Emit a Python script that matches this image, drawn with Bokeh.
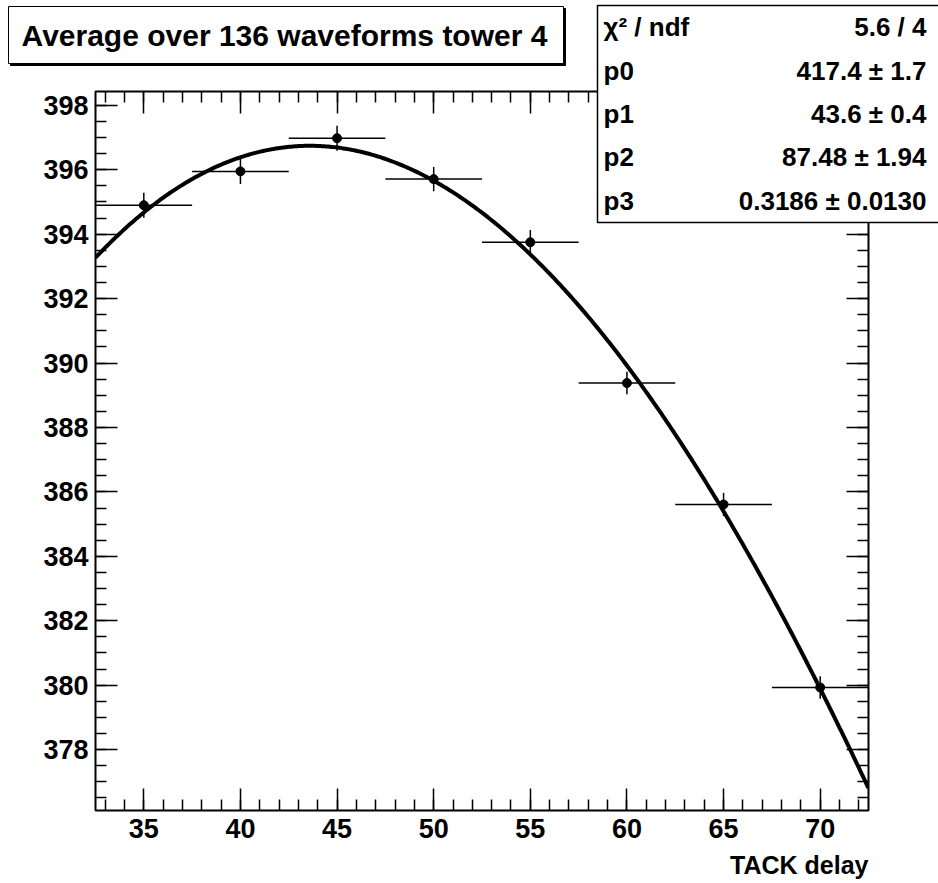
import numpy as np
from bokeh.plotting import figure
from bokeh.layouts import column
from bokeh.models import Range1d, LinearAxis, SingleIntervalTicker, ColumnDataSource
from bokeh.core.properties import value
from bokeh.embed import file_html
from bokeh.resources import INLINE

# Measured points (TACK delay vs. average amplitude)
delay = [35, 40, 45, 50, 55, 60, 65, 70]
amplitude = [394.90, 395.95, 396.98, 395.71, 393.75, 389.38, 385.61, 379.93]
amp_err = [0.39, 0.39, 0.39, 0.38, 0.38, 0.35, 0.36, 0.35]
delay_err = [2.5, 2.5, 2.5, 2.5, 2.5, 2.5, 2.5, 2.5]

# Fit result (Novosibirsk shape)
fit_pars = [417.4, 43.6, 87.48, 0.3186]
fit_vals = ["417.4", "43.6", "87.48", "0.3186"]
fit_errs = ["1.7", "0.4", "1.94", "0.0130"]
chi2_ndf = "5.6 / 4"

title_text = "Average over 136 waveforms tower 4"
x_title = "TACK delay"

W, H = 938, 883
FL, FR, FT, FB = 95, 868, 91, 810  # frame edges on the canvas
FONT = "Liberation Sans"


def novosibirsk(x, norm, peak, width, tail):
    qa = tail * np.sqrt(np.log(4.0))
    qb = np.sinh(qa) / qa
    qx = (x - peak) / width * qb
    qy = 1.0 + tail * qx
    qc = 0.5 * ((np.log(qy) / tail) ** 2 + tail * tail)
    return norm * np.exp(-qc)


fig = figure(width=W, height=H, output_backend="svg", toolbar_location=None,
             x_range=Range1d(32.5, 72.5), y_range=Range1d(376.11, 398.43),
             min_border_left=FL, min_border_right=W - FR,
             min_border_top=FT, min_border_bottom=H - FB,
             x_axis_type=None, y_axis_type=None)
fig.frame_align = False
fig.xgrid.grid_line_color = None
fig.ygrid.grid_line_color = None
fig.outline_line_color = "black"
fig.outline_line_width = 2
fig.background_fill_color = "white"
fig.border_fill_color = "white"


def make_axis(kind, loc):
    if kind == "x":
        ax = LinearAxis(ticker=SingleIntervalTicker(interval=5, num_minor_ticks=5))
    else:
        ax = LinearAxis(ticker=SingleIntervalTicker(interval=2, num_minor_ticks=4))
    ax.axis_line_color = None
    ax.major_tick_in = 22
    ax.major_tick_out = 0
    ax.minor_tick_in = 11
    ax.minor_tick_out = 0
    ax.major_tick_line_width = 1.5
    ax.minor_tick_line_width = 1.5
    ax.major_tick_line_color = "black"
    ax.minor_tick_line_color = "black"
    ax.major_label_text_font = FONT
    ax.major_label_text_font_style = "bold"
    ax.major_label_text_font_size = "27px"
    ax.major_label_text_color = "black"
    if loc in ("above", "right"):
        # tick marks only on the opposite sides
        ax.major_label_text_font_size = "8px"
        ax.major_label_text_color = None
    fig.add_layout(ax, loc)
    return ax


xb = make_axis("x", "below")
xb.major_label_standoff = 8
yl = make_axis("y", "left")
yl.major_label_standoff = 7
make_axis("x", "above")
make_axis("y", "right")

# error bars and markers
src = ColumnDataSource(dict(
    x=delay, y=amplitude,
    x0=[a - b for a, b in zip(delay, delay_err)],
    x1=[a + b for a, b in zip(delay, delay_err)],
    y0=[a - b for a, b in zip(amplitude, amp_err)],
    y1=[a + b for a, b in zip(amplitude, amp_err)],
))
fig.segment(x0="x0", y0="y", x1="x1", y1="y", source=src, line_color="black", line_width=1.5)
fig.segment(x0="x", y0="y0", x1="x", y1="y1", source=src, line_color="black", line_width=1.5)
fig.scatter(x="x", y="y", source=src, marker="circle", size=9,
            fill_color="black", line_color="black")

# fitted curve
xf = np.linspace(32.5, 72.5, 400)
fig.line(xf, novosibirsk(xf, *fit_pars), line_color="black", line_width=4)

# transparent canvas on top for the title pave, the statistics pave and the axis title
ov = figure(width=W, height=H, output_backend="svg", toolbar_location=None,
            x_range=Range1d(0, W), y_range=Range1d(H, 0),
            min_border=0, min_border_left=0, min_border_right=0,
            min_border_top=0, min_border_bottom=0,
            x_axis_type=None, y_axis_type=None)
ov.frame_align = False
ov.xgrid.grid_line_color = None
ov.ygrid.grid_line_color = None
ov.outline_line_color = None
ov.background_fill_color = None
ov.border_fill_color = None
ov.styles = {"position": "absolute", "left": "0px", "top": "0px"}

# title pave with shadow
ov.quad(left=[10], right=[565], top=[8], bottom=[65], fill_color="black", line_color="black")
ov.quad(left=[8], right=[563], top=[6], bottom=[63], fill_color="white",
        line_color="black", line_width=1)
ov.text(x=[284], y=[35], text=[title_text], text_font=value(FONT),
        text_font_style="bold", text_font_size="30px", text_color="black",
        text_align="center", text_baseline="middle")

# statistics pave
ov.quad(left=[597], right=[945], top=[5], bottom=[222], fill_color="white",
        line_color="black", line_width=1.5)
row_h = (222 - 5) / 5.0
labels = ["χ² / ndf", "p0", "p1", "p2", "p3"]
values = [chi2_ndf] + [f"{v} ± {e}" for v, e in zip(fit_vals, fit_errs)]
rows_y = [5 + row_h * (i + 0.5) for i in range(len(labels))]
ov.text(x=[603] * len(labels), y=rows_y, text=labels, text_font=value(FONT),
        text_font_style="bold", text_font_size="26px", text_color="black",
        text_align="left", text_baseline="middle")
ov.text(x=[926] * len(values), y=rows_y, text=values, text_font=value(FONT),
        text_font_style="bold", text_font_size="26px", text_color="black",
        text_align="right", text_baseline="middle")

# x-axis title, right-aligned with the frame
ov.text(x=[FR], y=[864], text=[x_title], text_font=value(FONT),
        text_font_style="bold", text_font_size="25px", text_color="black",
        text_align="right", text_baseline="middle")

p = column(fig, ov)
open("out.html", "w").write(file_html(p, INLINE))
